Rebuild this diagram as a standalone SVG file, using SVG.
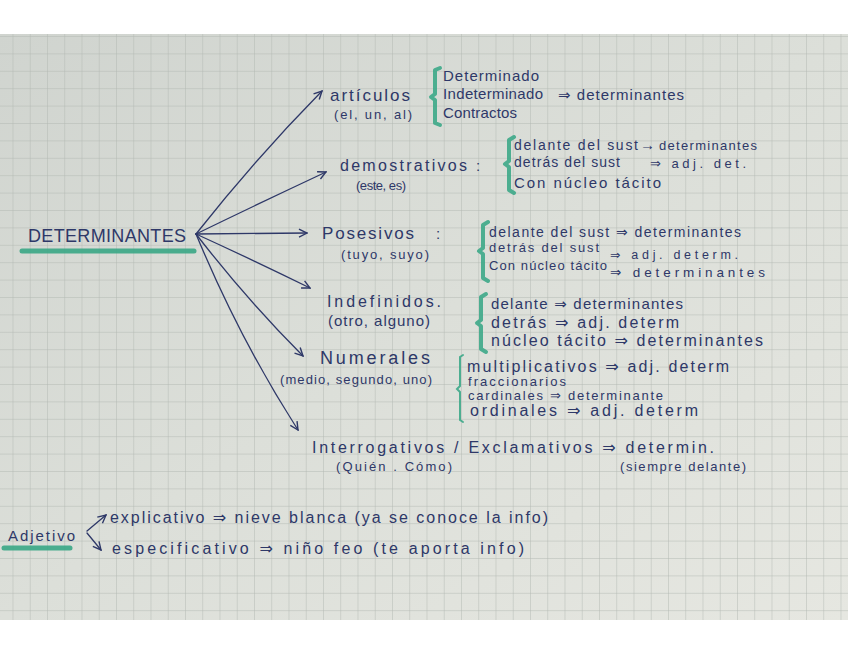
<svg xmlns="http://www.w3.org/2000/svg" width="848" height="655" viewBox="0 0 848 655">
<style>
.ink{fill:#2e3868;font-family:"Liberation Sans","DejaVu Sans",sans-serif}
.t{font-size:15px}
.s{font-size:13px}
.h{font-size:17px}
.br{fill:none;stroke:#3da888;stroke-width:4;stroke-linecap:round;stroke-linejoin:round;opacity:0.9}
.brt{fill:none;stroke:#3da888;stroke-width:2;stroke-linecap:round;opacity:0.9}
.ln{fill:none;stroke:#2e3868;stroke-width:1.3;stroke-linecap:round}
.hl{stroke:#3aa886;stroke-width:5;stroke-linecap:round;opacity:0.9}
</style>
<defs>
<linearGradient id="paper" x1="0" y1="0" x2="1" y2="1">
<stop offset="0" stop-color="#d0d4cf"/>
<stop offset="0.5" stop-color="#dcdfd9"/>
<stop offset="1" stop-color="#e6e7e1"/>
</linearGradient>
<pattern id="grid" patternUnits="userSpaceOnUse" x="12.5" y="36" width="17.25" height="17.4">
<path d="M0,0 V17.4 M0,0 H17.25" fill="none" stroke="#b0b5b0" stroke-width="0.9"/>
</pattern>
<marker id="ah" viewBox="0 0 10 10" refX="9" refY="5" markerWidth="10" markerHeight="10" markerUnits="userSpaceOnUse" orient="auto">
<path d="M1,1 L9,5 L1,9" fill="none" stroke="#2e3868" stroke-width="1.4"/>
</marker>
</defs>
<rect width="848" height="655" fill="#ffffff"/>
<rect x="0" y="34" width="848" height="586" fill="url(#paper)"/>
<rect x="0" y="34" width="848" height="586" fill="url(#grid)"/>

<g id="connectors">
<path class="ln" d="M196,234 Q256,158 322,91" marker-end="url(#ah)"/>
<path class="ln" d="M196,234 Q262,202 326,172" marker-end="url(#ah)"/>
<path class="ln" d="M196,234 L307,233" marker-end="url(#ah)"/>
<path class="ln" d="M196,234 Q253,260 310,288" marker-end="url(#ah)"/>
<path class="ln" d="M196,234 Q247,300 303,356" marker-end="url(#ah)"/>
<path class="ln" d="M196,234 Q240,340 298,430" marker-end="url(#ah)"/>
<path class="ln" d="M87,531 L106,515" marker-end="url(#ah)"/>
<path class="ln" d="M87,533 L101,550" marker-end="url(#ah)"/>
</g>

<g id="determinantes">
<line class="hl" x1="22" y1="251" x2="194" y2="251"/>
<text class="ink" x="28" y="242" font-size="18" textLength="158" lengthAdjust="spacing">DETERMINANTES</text>
</g>

<g id="articulos">
<text class="ink h" x="330" y="101" textLength="80" lengthAdjust="spacing">artículos</text>
<text class="ink s" x="334" y="119" textLength="78" lengthAdjust="spacing">(el, un, al)</text>
<path class="br" d="M440,68 L435,70 L435,94 L431,97 L435,100 L435,123 L440,125"/>
<text class="ink t" x="443" y="81" textLength="96" lengthAdjust="spacing">Determinado</text>
<text class="ink t" x="443" y="99" textLength="100" lengthAdjust="spacing">Indeterminado</text>
<text class="ink t" x="443" y="118" textLength="74" lengthAdjust="spacing">Contractos</text>
<text class="ink t" x="558" y="100" textLength="126" lengthAdjust="spacing">⇒ determinantes</text>
</g>

<g id="demostrativos">
<text class="ink" x="340" y="171" font-size="16" textLength="127" lengthAdjust="spacing">demostrativos</text>
<text class="ink t" x="476" y="171">:</text>
<text class="ink s" x="356" y="190" textLength="50" lengthAdjust="spacing">(este, es)</text>
<path class="br" d="M514,137 L509,140 L509,161 L505,164 L509,167 L509,190 L514,193"/>
<text class="ink" x="514" y="150" font-size="14" textLength="124" lengthAdjust="spacing">delante del sust</text>
<text class="ink" x="640" y="150" font-size="15">→</text>
<text class="ink s" x="659" y="150" textLength="98" lengthAdjust="spacing">determinantes</text>
<text class="ink" x="514" y="167" font-size="14" textLength="106" lengthAdjust="spacing">detrás del sust</text>
<text class="ink s" x="650" y="168" textLength="96" lengthAdjust="spacing">⇒ adj. det.</text>
<text class="ink t" x="514" y="188" textLength="147" lengthAdjust="spacing">Con núcleo tácito</text>
</g>

<g id="posesivos">
<text class="ink h" x="322" y="239" textLength="92" lengthAdjust="spacing">Posesivos</text>
<text class="ink t" x="436" y="239">:</text>
<text class="ink s" x="341" y="259" textLength="88" lengthAdjust="spacing">(tuyo, suyo)</text>
<path class="br" d="M488,222 L483,225 L483,248 L479,251 L483,254 L483,278 L488,281"/>
<text class="ink" x="489" y="237" font-size="14" textLength="252" lengthAdjust="spacing">delante del sust ⇒ determinantes</text>
<text class="ink s" x="489" y="252" textLength="110" lengthAdjust="spacing">detrás del sust</text>
<text class="ink" x="610" y="259" font-size="12.5" textLength="128" lengthAdjust="spacing">⇒ adj. determ.</text>
<text class="ink s" x="489" y="270" textLength="118" lengthAdjust="spacing">Con núcleo tácito</text>
<text class="ink" x="610" y="277" font-size="13.5" textLength="155" lengthAdjust="spacing">⇒ determinantes</text>
</g>

<g id="indefinidos">
<text class="ink" x="327" y="307" font-size="16" textLength="114" lengthAdjust="spacing">Indefinidos.</text>
<text class="ink t" x="328" y="326" textLength="102" lengthAdjust="spacing">(otro, alguno)</text>
<path class="br" d="M486,294 L481,297 L481,320 L477,323 L481,326 L481,349 L486,352"/>
<text class="ink t" x="491" y="309" textLength="192" lengthAdjust="spacing">delante ⇒ determinantes</text>
<text class="ink" x="491" y="328" font-size="16" textLength="188" lengthAdjust="spacing">detrás ⇒ adj. determ</text>
<text class="ink" x="491" y="346" font-size="16" textLength="272" lengthAdjust="spacing">núcleo tácito ⇒ determinantes</text>
</g>

<g id="numerales">
<text class="ink" x="320" y="364" font-size="18" textLength="110" lengthAdjust="spacing">Numerales</text>
<text class="ink s" x="280" y="384" textLength="152" lengthAdjust="spacing">(medio, segundo, uno)</text>
<path class="brt" d="M463,355 L460,357 L460,386 L457,389 L460,392 L460,420 L463,422"/>
<text class="ink" x="467" y="372" font-size="16" textLength="262" lengthAdjust="spacing">multiplicativos ⇒ adj. determ</text>
<text class="ink s" x="468" y="386" textLength="98" lengthAdjust="spacing">fraccionarios</text>
<text class="ink s" x="468" y="400" textLength="195" lengthAdjust="spacing">cardinales ⇒ determinante</text>
<text class="ink" x="470" y="416" font-size="16" textLength="228" lengthAdjust="spacing">ordinales ⇒ adj. determ</text>
</g>

<g id="interrogativos">
<text class="ink" x="312" y="453" font-size="16" textLength="402" lengthAdjust="spacing">Interrogativos / Exclamativos ⇒ determin.</text>
<text class="ink s" x="336" y="471" textLength="116" lengthAdjust="spacing">(Quién . Cómo)</text>
<text class="ink s" x="620" y="471" textLength="126" lengthAdjust="spacing">(siempre delante)</text>
</g>

<g id="adjetivo">
<line class="hl" x1="4" y1="548" x2="70" y2="548"/>
<text class="ink t" x="8" y="541" textLength="67" lengthAdjust="spacing">Adjetivo</text>
<text class="ink" x="110" y="523" font-size="16" textLength="438" lengthAdjust="spacing">explicativo ⇒ nieve blanca (ya se conoce la info)</text>
<text class="ink" x="112" y="554" font-size="16" textLength="412" lengthAdjust="spacing">especificativo ⇒ niño feo (te aporta info)</text>
</g>
</svg>
